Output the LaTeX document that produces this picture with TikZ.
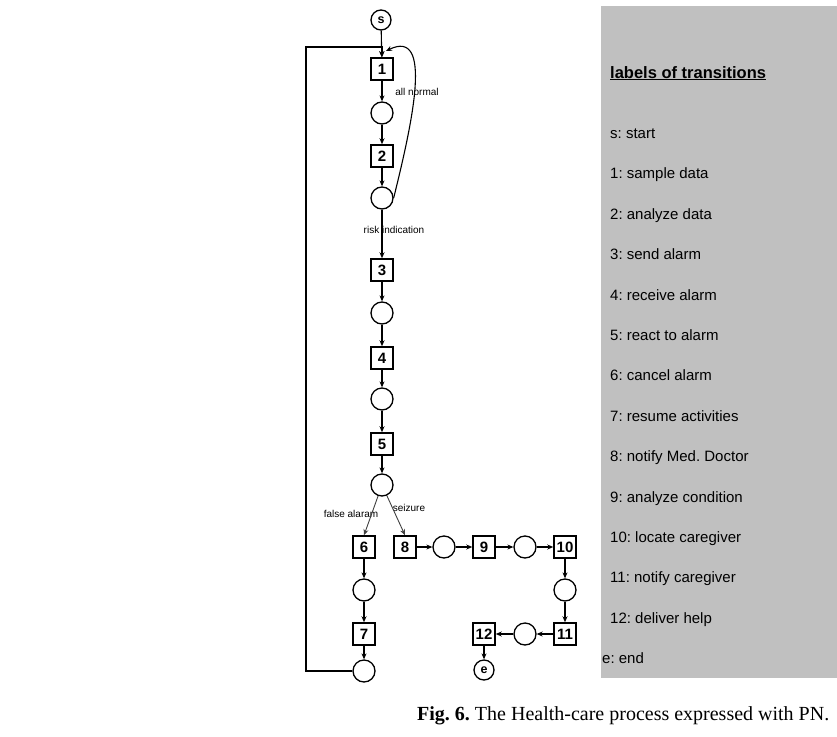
\documentclass[tikz,border=0pt]{standalone}
\usepackage{fontspec}
\setmainfont{Liberation Sans}
\newfontfamily\capfont{Liberation Serif}
\frenchspacing
\usetikzlibrary{positioning, arrows.meta, calc}
\definecolor{panelgray}{RGB}{192,192,192}
\tikzset{
    trans/.style={draw, line width=1.5pt, minimum size=22pt, inner sep=0pt, font=\fontsize{15}{16}\selectfont\bfseries},
    place/.style={draw, circle, line width=1.3pt, minimum size=22pt, inner sep=0pt},
    term/.style={draw, circle, line width=1.3pt, minimum size=20pt, inner sep=0pt, font=\fontsize{12.5}{14}\selectfont\bfseries},
    arc/.style={-{Stealth[length=6pt,width=5pt]}, line width=1.1pt},
    armlbl/.style={font=\fontsize{10}{12}\selectfont, inner sep=1pt},
    legend/.style={anchor=base west, font=\fontsize{15}{18}\selectfont, inner sep=0pt}
}

\begin{document}
\begin{tikzpicture}[x=1pt, y=-1pt]
    \useasboundingbox (0,0) rectangle (837,736);

    % legend panel on the right
    \fill[panelgray] (601,6) rectangle (837,678);
    \node[legend, font=\fontsize{16.5}{19}\selectfont\bfseries] (legtitle) at (610,78) {\underline{labels of transitions}};
    \foreach \txt [count=\i from 0] in {s: start, 1: sample data, 2: analyze data, 3: send alarm, 4: receive alarm, 5: react to alarm, 6: cancel alarm, 7: resume activities, 8: notify Med. Doctor, 9: analyze condition, 10: locate caregiver, 11: notify caregiver, 12: deliver help} {
        \node[legend] (leg\i) at (610, 138.5+40.4*\i) {\txt};
    }
    \node[legend] (legend) at (602,663.5) {e: end};

    % start place and main column
    \node[term] (s) at (381,20) {s};
    \foreach \n/\y in {1/69, 2/156, 3/270, 4/358, 5/444} {
        \node[trans] (t\n) at (382,\y) {\n};
    }
    \foreach \n/\y in {1/113, 2/198, 3/313, 4/399, 5/485} {
        \node[place] (p\n) at (382,\y) {};
    }

    % false alarm branch
    \node[trans] (t6) at (364,547) {6};
    \node[place] (p6) at (364,590) {};
    \node[trans] (t7) at (364,634) {7};
    \node[place] (p7) at (364,671) {};

    % seizure branch
    \node[trans] (t8)  at (405,547) {8};
    \node[place] (p8)  at (444,547) {};
    \node[trans] (t9)  at (484,547) {9};
    \node[place] (p9)  at (525,547) {};
    \node[trans] (t10) at (565,547) {10};
    \node[place] (p10) at (565,590) {};
    \node[trans] (t11) at (565,634) {11};
    \node[place] (p11) at (525,634) {};
    \node[trans] (t12) at (484,634) {12};
    \node[term] (e) at (484,670) {e};

    % arc labels
    \node[armlbl] (lnormal) at (417,92) {all normal};
    \node[armlbl] (lrisk) at (394,230) {risk indication};
    \node[armlbl] (lfalse) at (351,514) {false alaram};
    \node[armlbl] (lseiz) at (409,508) {seizure};

    % arcs of the main column
    \draw[arc] (s) -- (t1);
    \foreach \a/\b in {t1/p1, p1/t2, t2/p2, p2/t3, t3/p3, p3/t4, t4/p4, p4/t5, t5/p5} {
        \draw[arc] (\a) -- (\b);
    }
    \coordinate (back) at (386,51);
    \draw[arc] (p2.east) .. controls (413,120) and (433,28) .. (back);

    % branches
    \draw[arc, black!75, line width=0.9pt] (p5) -- (t6.north);
    \draw[arc, black!75, line width=0.9pt] (p5) -- (t8.north);
    \foreach \a/\b in {t6/p6, p6/t7, t7/p7, t8/p8, p8/t9, t9/p9, p9/t10, t10/p10, p10/t11, t11/p11, p11/t12, t12/e} {
        \draw[arc] (\a) -- (\b);
    }

    % loop back to transition 1
    \coordinate (loopL) at (306,47);
    \draw[arc, line width=1.4pt] (p7.west) -| (loopL) -| (t1.north);

    % caption
    \node[anchor=base west, inner sep=0pt, font=\capfont\fontsize{20}{24}\selectfont] (caption) at (417,720) {\textbf{Fig. 6.} The Health-care process expressed with PN.};
\end{tikzpicture}
\end{document}
